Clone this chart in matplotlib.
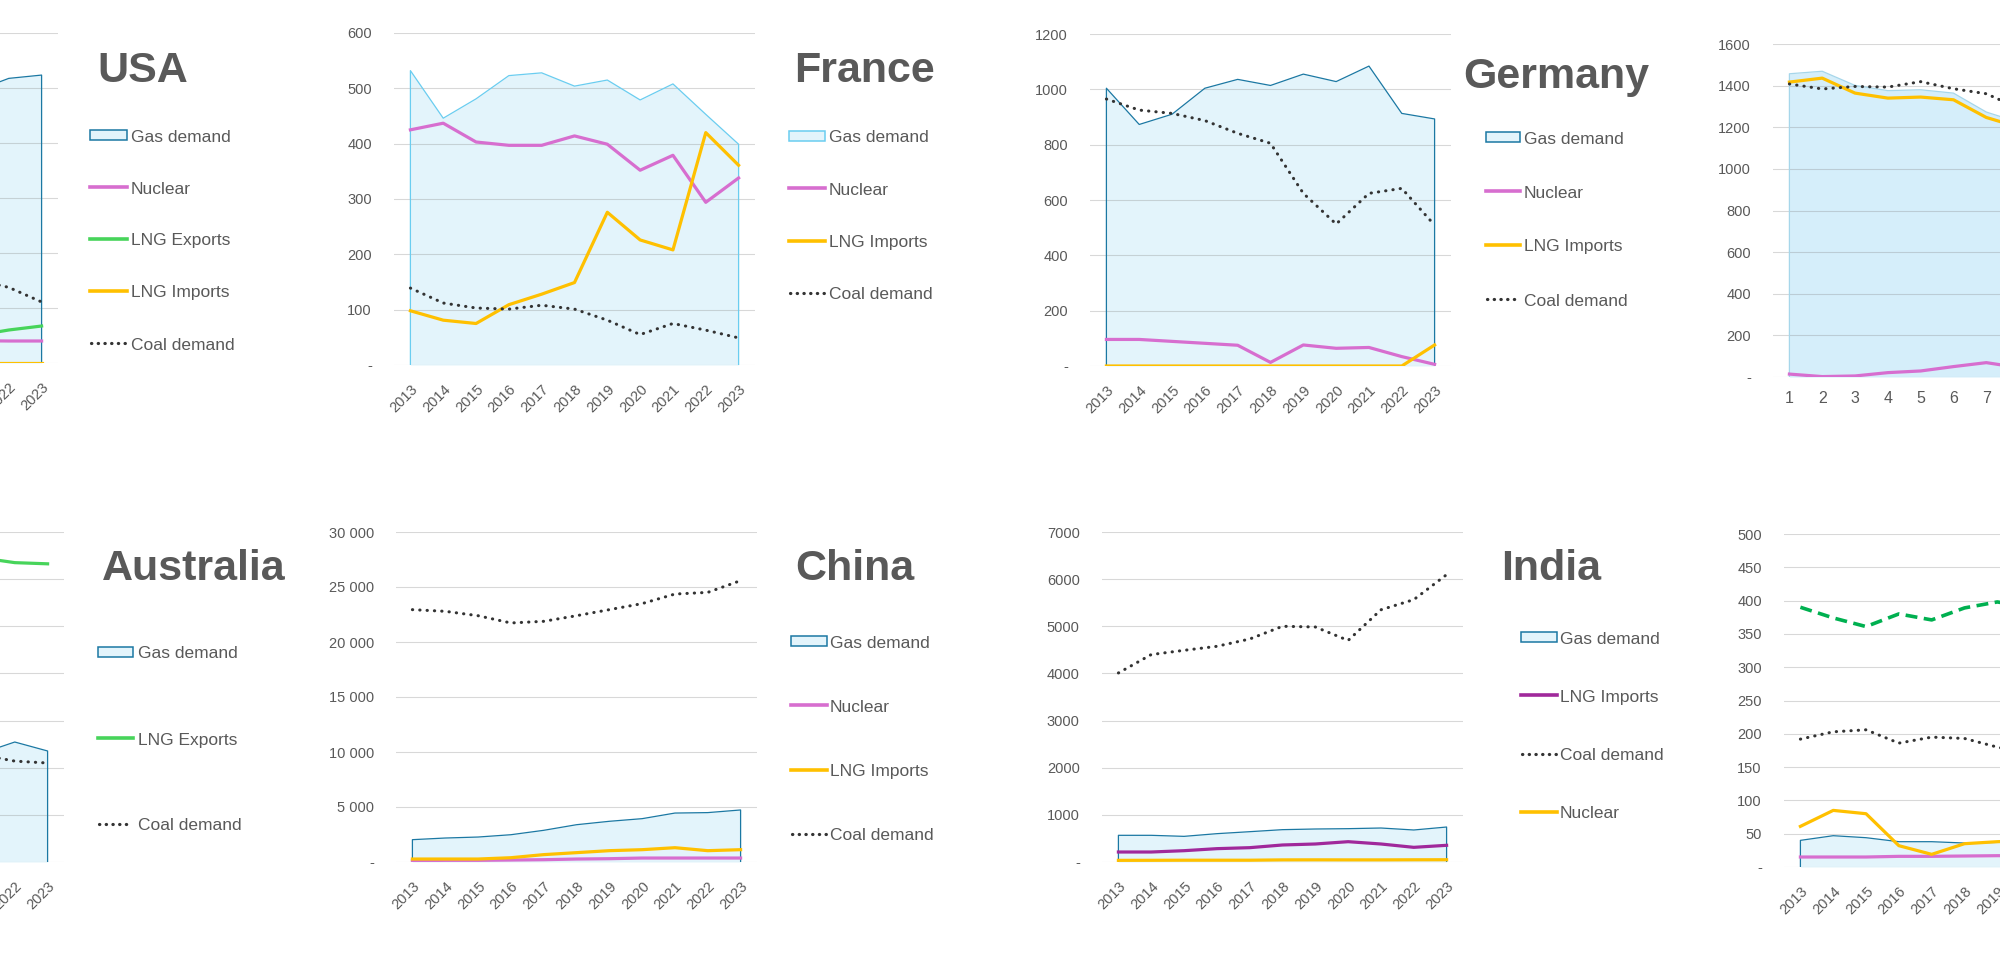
import matplotlib
matplotlib.use("Agg")
import matplotlib.pyplot as plt
from matplotlib.lines import Line2D
from matplotlib.patches import Rectangle

W, H = 2000, 960

years = ["2013", "2014", "2015", "2016", "2017", "2018", "2019", "2020", "2021", "2022", "2023"]
periods = ["1", "2", "3", "4", "5", "6", "7", "8", "9", "10", "11"]

# USA (only the last years are on screen)
usa_gas = [8200, 8500, 8600, 8300, 8400, 9100, 9400, 9300, 9900, 10350, 10470]
usa_nuclear = [830, 830, 830, 840, 830, 830, 830, 820, 810, 800, 800]
usa_lng_exp = [5, 5, 5, 50, 200, 300, 500, 680, 1000, 1200, 1345]
usa_lng_imp = [30, 15, 20, 20, 15, 10, 10, 10, 5, 5, 5]
usa_coal = [5200, 5150, 4600, 4350, 4200, 4050, 3500, 2900, 3020, 2750, 2220]
usa_yticks = ["-", "2000", "4000", "6000", "8000", "10000", "12000"]

# France
fr_gas = [532, 446, 481, 523, 528, 504, 515, 479, 508, 453, 399]
fr_nuclear = [425, 437, 403, 397, 397, 414, 399, 352, 379, 294, 338]
fr_lng_imp = [98, 81, 75, 109, 128, 149, 276, 226, 208, 420, 361]
fr_coal = [139, 112, 103, 101, 108, 101, 81, 55, 75, 63, 49]
fr_yticks = ["-", "100", "200", "300", "400", "500", "600"]

# Germany
de_gas = [1004, 873, 910, 1004, 1036, 1014, 1055, 1028, 1084, 913, 893]
de_nuclear = [96, 96, 89, 82, 75, 13, 76, 64, 67, 34, 6]
de_lng_imp = [0, 0, 0, 0, 0, 0, 0, 0, 0, 0, 76]
de_coal = [965, 925, 913, 887, 841, 805, 624, 513, 624, 642, 509]
de_yticks = ["-", "200", "400", "600", "800", "1000", "1200"]

# right-hand panel, top row (title off screen)
tr_gas = [1457, 1469, 1401, 1376, 1380, 1364, 1273, 1223, 1150, 1100, 1050]
tr_lng_imp = [1417, 1436, 1364, 1340, 1345, 1332, 1247, 1200, 1130, 1080, 1030]
tr_coal = [1408, 1384, 1396, 1393, 1419, 1385, 1361, 1290, 1250, 1200, 1150]
tr_nuclear = [14, 2, 5, 21, 29, 50, 69, 45, 60, 70, 80]
tr_yticks = ["-", "200", "400", "600", "800", "1000", "1200", "1400", "1600"]

# Australia (only the last years are on screen)
au_gas = [600, 610, 560, 520, 510, 500, 490, 470, 462, 509, 471]
au_lng_exp = [310, 330, 400, 600, 760, 900, 1030, 1090, 1290, 1270, 1265]
au_coal = [560, 550, 540, 530, 520, 510, 500, 470, 454, 428, 420]
au_yticks = ["-", "200", "400", "600", "800", "1000", "1200", "1400"]

# China
cn_gas = [2030, 2180, 2270, 2480, 2880, 3390, 3700, 3940, 4450, 4490, 4730]
cn_nuclear = [120, 150, 150, 180, 210, 270, 300, 360, 360, 360, 360]
cn_lng_imp = [270, 270, 270, 390, 670, 850, 1030, 1120, 1300, 1030, 1120]
cn_coal = [22940, 22790, 22390, 21730, 21880, 22390, 22940, 23490, 24360, 24510, 25580]
cn_yticks = ["-", "5 000", "10 000", "15 000", "20 000", "25 000", "30 000"]

# India
in_gas = [566, 566, 544, 601, 643, 686, 700, 707, 721, 679, 742]
in_lng_imp = [212, 212, 240, 283, 304, 361, 382, 431, 382, 311, 354]
in_coal = [4010, 4400, 4490, 4575, 4730, 5000, 4985, 4700, 5350, 5565, 6095]
in_nuclear = [35, 36, 38, 38, 38, 45, 46, 45, 45, 47, 48]
in_yticks = ["-", "1000", "2000", "3000", "4000", "5000", "6000", "7000"]

# right-hand panel, bottom row (title off screen)
br_green = [390, 374, 361, 380, 371, 389, 398, 390, 400, 410, 405]
br_coal = [192, 203, 206, 186, 195, 193, 180, 170, 175, 165, 160]
br_orange = [61, 85, 80, 32, 19, 35, 38, 40, 42, 45, 45]
br_gas = [40, 47, 44, 38, 38, 36, 37, 38, 40, 39, 38]
br_pink = [15, 15, 15, 16, 16, 16.5, 17, 17, 17, 17, 17]
br_yticks = ["-", "50", "100", "150", "200", "250", "300", "350", "400", "450", "500"]

GAS_FILL = "#e3f4fb"
GAS_EDGE = "#1b78a3"
GAS_EDGE_LIGHT = "#6acdf0"
NUCLEAR = "#d76ecf"
LNG_EXP = "#47d45a"
LNG_IMP = "#ffc000"
PURPLE = "#a0299b"
COAL = "#333333"
DARK_GREEN = "#00b050"
TEXT = "#595959"
FONT = ["Liberation Sans", "DejaVu Sans"]
DOTS = (0, (0.1, 2.3))

plt.rcParams["font.family"] = FONT

fig = plt.figure(figsize=(W / 100, H / 100), dpi=100)
all_axes = []


def px_axes(left, top, right, bottom):
    a = fig.add_axes([left / W, 1 - bottom / H, (right - left) / W, (bottom - top) / H])
    all_axes.append(a)
    return a


def setup(ax, cats, ymax, ylabels, rotate=True):
    n = len(cats)
    ax.set_xlim(-0.5, n - 0.5)
    ax.set_ylim(0, ymax)
    step = ymax / (len(ylabels) - 1)
    ax.set_yticks([i * step for i in range(len(ylabels))])
    ax.set_yticklabels(ylabels)
    ax.set_xticks(range(n))
    if rotate:
        ax.set_xticklabels(cats, rotation=45, ha="right", rotation_mode="anchor")
        ax.tick_params(axis="x", pad=12, labelsize=10.5)
    else:
        ax.set_xticklabels(cats)
        ax.tick_params(axis="x", pad=10, labelsize=11.5)
    for s in ax.spines.values():
        s.set_visible(False)
    ax.tick_params(length=0, colors=TEXT)
    ax.tick_params(axis="y", pad=16, labelsize=10.5)
    ax.grid(axis="y", color="#808080", alpha=0.3, lw=0.8)
    ax.set_axisbelow(False)
    ax.patch.set_alpha(0)


def area(ax, vals, edge=GAS_EDGE, fill=GAS_FILL):
    x = list(range(len(vals)))
    ax.fill_between(x, 0, vals, color=fill, lw=0, zorder=1)
    ax.plot([x[0]] + x + [x[-1]], [0] + vals + [0], color=edge, lw=0.9, zorder=2.6)


def line(ax, vals, color, ls="-", lw=2.3):
    kw = dict(dash_capstyle="round") if ls == DOTS else {}
    ax.plot(range(len(vals)), vals, color=color, lw=lw, ls=ls, solid_joinstyle="round", zorder=3, **kw)


def title(x, baseline, text):
    fig.text(x / W, 1 - baseline / H, text, fontsize=31, fontweight="bold", color=TEXT,
             va="baseline", ha="left")


def legend(x0, x1, xt, y0, dy, entries):
    for i, (label, kind, color) in enumerate(entries):
        y = y0 + i * dy
        fy = 1 - y / H
        if kind == "area":
            fig.add_artist(Rectangle((x0 / W, fy - 5 / H), (x1 - x0) / W, 10 / H, facecolor=GAS_FILL,
                                     edgecolor=color, lw=1.1, transform=fig.transFigure))
        elif kind == "dots":
            fig.add_artist(Line2D([(x0 + 1) / W, (x1 - 1) / W], [fy, fy], color=color, lw=2.3,
                                  ls=(0, (0.1, 2.0)), dash_capstyle="round", transform=fig.transFigure))
        else:
            fig.add_artist(Line2D([x0 / W, x1 / W], [fy, fy], color=color, lw=2.6, transform=fig.transFigure))
        fig.text(xt / W, fy - 6.5 / H, label, fontsize=12.5, color=TEXT, va="baseline", ha="left")


# ---- top row ----
ax = px_axes(-303, 33, 58, 363)
setup(ax, years, 12000, usa_yticks)
area(ax, usa_gas)
line(ax, usa_nuclear, NUCLEAR)
line(ax, usa_lng_exp, LNG_EXP)
line(ax, usa_lng_imp, LNG_IMP)
line(ax, usa_coal, COAL, DOTS, 2.2)
title(97, 82, "USA")
legend(90, 127, 131, 135, 52, [("Gas demand", "area", GAS_EDGE), ("Nuclear", "line", NUCLEAR),
                               ("LNG Exports", "line", LNG_EXP), ("LNG Imports", "line", LNG_IMP),
                               ("Coal demand", "dots", COAL)])

ax = px_axes(394, 33, 755, 365)
setup(ax, years, 600, fr_yticks)
area(ax, fr_gas, GAS_EDGE_LIGHT)
line(ax, fr_nuclear, NUCLEAR)
line(ax, fr_lng_imp, LNG_IMP)
line(ax, fr_coal, COAL, DOTS, 2.2)
title(794, 82, "France")
legend(789, 825, 829, 136, 52.3, [("Gas demand", "area", GAS_EDGE_LIGHT), ("Nuclear", "line", NUCLEAR),
                                  ("LNG Imports", "line", LNG_IMP), ("Coal demand", "dots", COAL)])

ax = px_axes(1090, 34, 1451, 366)
setup(ax, years, 1200, de_yticks)
area(ax, de_gas)
line(ax, de_nuclear, NUCLEAR)
line(ax, de_lng_imp, LNG_IMP)
line(ax, de_coal, COAL, DOTS, 2.2)
title(1463, 88, "Germany")
legend(1486, 1520, 1524, 137, 54, [("Gas demand", "area", GAS_EDGE), ("Nuclear", "line", NUCLEAR),
                                   ("LNG Imports", "line", LNG_IMP), ("Coal demand", "dots", COAL)])

ax = px_axes(1773, 44, 2134, 377)
setup(ax, periods, 1600, tr_yticks, rotate=False)
area(ax, tr_gas, "#a6d6ea", "#d5eefa")
line(ax, tr_nuclear, NUCLEAR)
line(ax, tr_lng_imp, LNG_IMP)
line(ax, tr_coal, COAL, DOTS, 2.2)

# ---- bottom row ----
ax = px_axes(-297, 532, 64, 862)
setup(ax, years, 1400, au_yticks)
area(ax, au_gas)
line(ax, au_lng_exp, LNG_EXP)
line(ax, au_coal, COAL, DOTS, 2.2)
title(102, 580, "Australia")
legend(98, 133, 138, 652, 86, [("Gas demand", "area", GAS_EDGE), ("LNG Exports", "line", LNG_EXP),
                               ("Coal demand", "dots", COAL)])

ax = px_axes(396, 532, 757, 862)
setup(ax, years, 30000, cn_yticks)
area(ax, cn_gas)
line(ax, cn_nuclear, NUCLEAR)
line(ax, cn_lng_imp, LNG_IMP)
line(ax, cn_coal, COAL, DOTS, 2.2)
title(795, 580, "China")
legend(791, 827, 830, 641, 64.3, [("Gas demand", "area", GAS_EDGE), ("Nuclear", "line", NUCLEAR),
                                  ("LNG Imports", "line", LNG_IMP), ("Coal demand", "dots", COAL)])

ax = px_axes(1102, 532, 1463, 862)
setup(ax, years, 7000, in_yticks)
area(ax, in_gas)
line(ax, in_nuclear, LNG_IMP)
line(ax, in_lng_imp, PURPLE)
line(ax, in_coal, COAL, DOTS, 2.2)
title(1501, 580, "India")
legend(1521, 1557, 1560, 637, 58.3, [("Gas demand", "area", GAS_EDGE), ("LNG Imports", "line", PURPLE),
                                     ("Coal demand", "dots", COAL), ("Nuclear", "line", LNG_IMP)])

ax = px_axes(1784, 534, 2145, 867)
setup(ax, years, 500, br_yticks)
area(ax, br_gas)
line(ax, br_pink, NUCLEAR)
line(ax, br_orange, LNG_IMP)
line(ax, br_coal, COAL, DOTS, 2.2)
line(ax, br_green, DARK_GREEN, (0, (3.3, 1.8)), 2.6)

# the screenshot is cropped: tick labels that fall wholly outside the picture are not drawn
fig.canvas.draw()
renderer = fig.canvas.get_renderer()
for a in all_axes:
    for lab in a.get_xticklabels() + a.get_yticklabels():
        bb = lab.get_window_extent(renderer)
        if bb.x1 <= 0 or bb.x0 >= W:
            lab.set_visible(False)

fig.savefig("out.png", dpi=100)
